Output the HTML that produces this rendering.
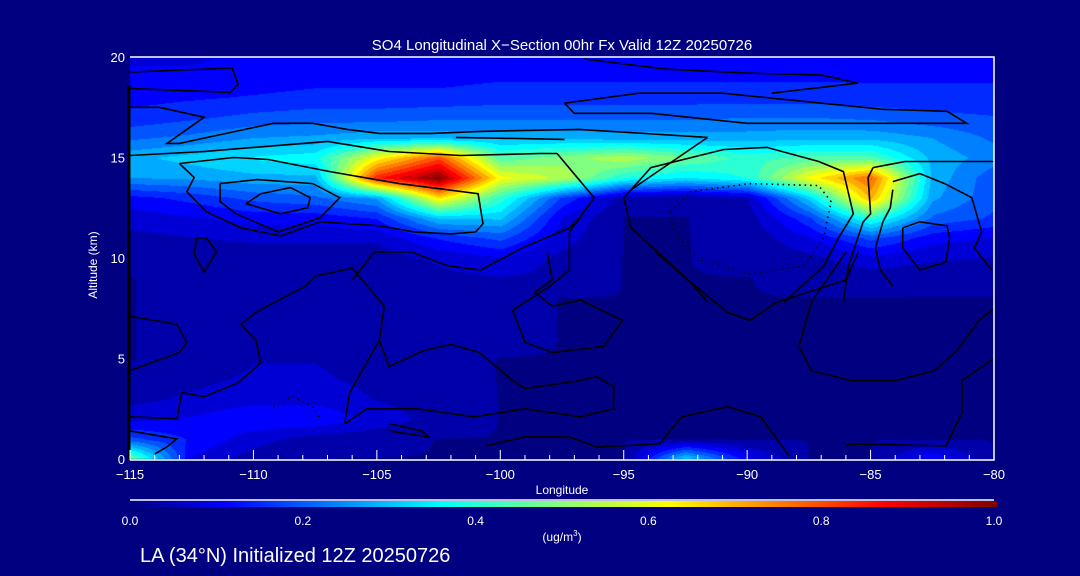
<!DOCTYPE html>
<html><head><meta charset="utf-8">
<style>
html,body{margin:0;padding:0;background:#000080;}
#wrap{position:relative;width:1080px;height:576px;overflow:hidden;background:#000080;font-family:"Liberation Sans",sans-serif;color:#fff;}
canvas{position:absolute;left:0;top:0;}
svg{position:absolute;left:0;top:0;}
</style></head><body>
<div id="wrap">
<canvas id="heat" width="1080" height="576"></canvas>
<svg id="svg" width="1080" height="576">
<defs><linearGradient id="jet" x1="0" x2="1" y1="0" y2="0">
<stop offset="0" stop-color="#000080"/><stop offset="0.11" stop-color="#0000ff"/><stop offset="0.36" stop-color="#00ffff"/><stop offset="0.62" stop-color="#ffff00"/><stop offset="0.87" stop-color="#ff0000"/><stop offset="1" stop-color="#800000"/></linearGradient></defs>
<text x="562" y="50" text-anchor="middle" font-size="15" fill="#fff">SO4 Longitudinal X−Section 00hr  Fx Valid 12Z 20250726</text>
<text transform="translate(97,265) rotate(-90)" text-anchor="middle" font-size="12" fill="#fff">Altitude (km)</text>
<text x="562" y="494" text-anchor="middle" font-size="12" fill="#fff">Longitude</text>
<line x1="130" y1="500" x2="994" y2="500" stroke="#fff" stroke-width="1.5"/>
<rect x="130" y="501" width="867" height="6" fill="url(#jet)"/>
<text x="562" y="541" text-anchor="middle" font-size="12" fill="#fff">(ug/m<tspan dy="-5" font-size="8">3</tspan><tspan dy="5">)</tspan></text>
<text x="140" y="562" font-size="20" fill="#fff">LA (34°N) Initialized 12Z 20250726</text>
<g id="contours"></g>
<g id="axes"></g>
</svg>
</div>
<script>
const lonNodes=[-115,-112.5,-110,-107.5,-105,-102.5,-100,-97.5,-95,-92.5,-90,-87.5,-85,-82.5,-80];
const altNodes=[20,19,18,17,16,15,14,13,12,11,10,9,8,7,6,5,4,3,2,1,0];
const so4=[
[.10,.10,.11,.12,.12,.12,.13,.13,.13,.13,.13,.13,.13,.13,.13],
[.11,.11,.12,.13,.13,.13,.14,.14,.14,.14,.14,.14,.14,.14,.14],
[.13,.14,.15,.16,.16,.16,.17,.17,.17,.17,.17,.17,.16,.16,.16],
[.16,.18,.20,.21,.21,.22,.22,.22,.22,.22,.23,.23,.22,.20,.19],
[.22,.24,.27,.28,.30,.30,.30,.30,.29,.29,.29,.30,.30,.27,.22],
[.30,.33,.36,.38,.62,.80,.45,.50,.55,.48,.42,.45,.45,.30,.25],
[.27,.28,.30,.30,.85,1.0,.62,.55,.40,.35,.40,.62,.78,.30,.20],
[.13,.16,.20,.22,.28,.65,.42,.18,.04,.03,.06,.33,.70,.28,.20],
[.08,.10,.12,.12,.15,.32,.32,.10,.02,.02,.04,.18,.42,.22,.18],
[.05,.06,.07,.07,.07,.15,.20,.08,.02,.02,.03,.10,.20,.12,.10],
[.03,.04,.04,.04,.04,.07,.10,.05,.02,.02,.03,.05,.09,.07,.06],
[.02,.03,.03,.04,.03,.05,.06,.05,.02,.02,.02,.03,.04,.03,.03],
[.02,.03,.04,.05,.03,.03,.03,.02,.02,.02,.02,.02,.02,.02,.02],
[.02,.03,.05,.05,.03,.03,.03,.02,.02,.02,.02,.02,.02,.02,.02],
[.02,.03,.05,.05,.04,.03,.03,.02,.02,.02,.02,.02,.02,.02,.02],
[.02,.03,.06,.06,.04,.03,.02,.02,.02,.02,.02,.02,.02,.02,.02],
[.03,.05,.07,.07,.05,.03,.02,.02,.02,.02,.02,.02,.02,.02,.02],
[.05,.07,.09,.09,.06,.04,.02,.02,.02,.02,.02,.02,.02,.02,.02],
[.09,.11,.14,.14,.09,.04,.02,.02,.02,.02,.02,.02,.02,.02,.02],
[.20,.14,.08,.04,.03,.02,.02,.02,.02,.02,.02,.02,.02,.02,.02],
[.50,.10,.04,.02,.02,.02,.02,.02,.02,.35,.12,.02,.02,.15,.02]];
const xTicks=[-115,-110,-105,-100,-95,-90,-85,-80];
const yTicks=[0,5,10,15,20];
const cbTicks=["0.0","0.2","0.4","0.6","0.8","1.0"];
const contours=[
{d:false,p:[[-115,19.25],[-110.86,19.45],[-110.62,18.64],[-110.94,18.24],[-115,18.44]]},
{d:false,p:[[-115,17.5],[-113.8,17.5],[-112,17.0],[-113.5,15.7],[-113,15.7],[-111.1,16.2],[-109.2,16.7],[-107.6,16.7],[-106.2,16.4],[-104.9,16.2],[-102.8,16.2],[-100.8,16.3],[-96.8,16.4],[-91.6,16.0]]},
{d:false,p:[[-97.4,17.7],[-97,17.2],[-93.9,17.2],[-90,16.7],[-81.1,16.7],[-81.9,17.3],[-84.5,17.4],[-91,18.2],[-94.4,18.2],[-97.4,17.7]]},
{d:false,p:[[-96.6,19.9],[-93.3,19.4],[-90,19.2],[-87,19.1],[-85.5,18.7],[-89,18.2]]},
{d:false,p:[[-115,15.1],[-112,15.3],[-107,15.8],[-104.5,15.3],[-101.6,15.1],[-98.4,15.2],[-97.7,15.2]]},
{d:false,p:[[-113,14.7],[-110.8,15],[-109.4,14.9],[-106.9,14.3],[-104.1,13.7],[-100.9,13.2],[-100.7,11.7],[-101,11.3],[-102,11.2],[-103.5,11.3],[-104.9,11.6],[-107.3,11.8],[-108.9,11.1],[-110.5,11.5],[-111.9,12.3],[-112.7,13.3],[-112.4,14],[-113,14.7]]},
{d:false,p:[[-111.35,13.7],[-109.85,13.9],[-107.6,13.7],[-106.5,13],[-107.3,12],[-109,11.3],[-110.7,12.2],[-111.35,12.8],[-111.35,13.7]]},
{d:false,p:[[-110.3,12.7],[-109.7,13.2],[-108.5,13.5],[-107.7,13],[-107.8,12.5],[-108.9,12.2],[-110.3,12.7]]},
{d:false,p:[[-112.3,11],[-111.9,11],[-111.5,10.3],[-112,9.3],[-112.4,10.2],[-112.3,11]]},
{d:false,p:[[-106,8.9],[-105.1,10.3],[-103.6,10.3],[-102.1,9.6],[-100.8,9.4],[-99.1,10.5],[-97.2,11.5],[-96.75,12]]},
{d:false,p:[[-97.7,15.2],[-96.2,13],[-97.2,11.3],[-97.2,9.4],[-98,8.6],[-99.5,7.4],[-99,5.8],[-97.9,5.3],[-95.8,5.6],[-95.05,6.9],[-96.75,7.9],[-97.9,7.6],[-98.6,8.3],[-97.9,8.9],[-98.1,10.3]]},
{d:false,p:[[-91.6,16],[-94.7,13.4],[-95,13],[-94.7,11.5],[-92.3,8.8],[-91.6,7.8]]},
{d:false,p:[[-94.7,13.4],[-93.9,14.5],[-90.95,15.4],[-89.2,15.5],[-87.1,14.8],[-86.1,14.3],[-85.7,12.2],[-86.3,11],[-86.9,9.6],[-88.5,7.8]]},
{d:false,p:[[-93.7,10.3],[-92.4,8.9],[-90.8,7.3],[-89.9,6.9],[-88.8,7.8],[-86,8.9],[-85.5,10.3]]},
{d:false,p:[[-86,10.3],[-87.4,7.8],[-87.9,5.6],[-87.4,4.4],[-85.8,3.9],[-84,3.9],[-82.4,4.4],[-81.5,5.4],[-80.6,6.9],[-80,7.5]]},
{d:false,p:[[-83.7,11.5],[-83,11.8],[-81.9,11.6],[-81.8,11],[-81.95,9.8],[-83,9.4],[-83.7,10.5],[-83.7,11.5]]},
{d:false,p:[[-84.1,13.8],[-83,14.2],[-82,13.7],[-80.9,13],[-80.5,11.3],[-80.8,10.5],[-80.1,9.4]]},
{d:false,p:[[-84.9,14.5],[-85.1,14],[-85,12.2],[-85.3,11.8],[-85.9,9.6],[-86.1,7.8]]},
{d:false,p:[[-84.1,13.4],[-84.2,12.5],[-84.5,11.8],[-84.8,10.5],[-84.6,9.4],[-84.1,8.6]]},
{d:false,p:[[-84.9,14.5],[-83.6,14.8],[-80,14.8]]},
{d:false,p:[[-115,7.1],[-113.1,6.7],[-112.7,5.8],[-113,5.3],[-115,4.4]]},
{d:false,p:[[-115,2.1],[-113.1,2],[-112.9,3.3],[-112,3.1],[-110.6,3.8],[-109.7,4.8],[-109.9,5.9],[-110.5,6.7],[-109.9,7.3],[-107.9,8.6],[-107.5,9.1],[-106,9.5],[-104.7,7.6],[-104.9,5.9],[-106.1,3.3],[-106.3,1.8]]},
{d:false,p:[[-106.3,1.76],[-105.4,2.5],[-103.4,2.5],[-101.05,2.1],[-99,2.5],[-96.75,2.1],[-95.4,2.5],[-95.4,3.6],[-96.1,4.1],[-96.75,3.9],[-99,3.5],[-99.5,3.9],[-100.85,5.3],[-102,5.7],[-103.1,5.4],[-104.5,4.6],[-104.9,5.9]]},
{d:false,p:[[-100.6,0.65],[-99,1.1],[-97.2,1.1],[-96.1,0.6],[-93.55,0.75],[-92.65,2.1],[-90.8,2.6],[-89.45,2.1],[-88.3,0.15]]},
{d:false,p:[[-86,0.65],[-85.8,0.75],[-81.95,0.65],[-81.3,2.3],[-81.3,3.9],[-80,5]]},
{d:false,p:[[-115,1.4],[-113.1,1],[-113.5,0.6],[-114,0.25]]},
{d:false,p:[[-104.5,1.76],[-103.2,1.4],[-102.9,1.1],[-104.5,1.4]]},
{d:false,p:[[-101.8,16.0],[-97.4,15.9]]},
{d:true,p:[[-93.1,12.3],[-92.3,13.3],[-89.9,13.7],[-87.1,13.6],[-86.6,12.8],[-86.9,11],[-87.7,9.6],[-89.9,9.2],[-91.9,9.9],[-93,11.3],[-93.1,12.3]]},
{d:true,p:[[-109.2,2.6],[-108.4,3.1],[-107.6,2.6],[-107.3,2.0]]}
];
const X0=130,X1=994,Y0=459,Y1=57;
const xs=l=>X0+(l+115)/35*(X1-X0);
const ys=a=>Y0-a/20*(Y0-Y1);
function jet(v){v=Math.max(0,Math.min(1,v));
 let r=Math.min(4*v-1.5,-4*v+4.5),g=Math.min(4*v-0.5,-4*v+3.5),b=Math.min(4*v+0.5,-4*v+2.5);
 return [r,g,b].map(c=>Math.round(255*Math.max(0,Math.min(1,c))));}
function val(lon,alt){
 let fi=(lon+115)/2.5, fj=(20-alt);
 fi=Math.max(0,Math.min(lonNodes.length-1.0001,fi)); fj=Math.max(0,Math.min(altNodes.length-1.0001,fj));
 const i=Math.floor(fi),j=Math.floor(fj),u=fi-i,w=fj-j;
 return so4[j][i]*(1-u)*(1-w)+so4[j][i+1]*u*(1-w)+so4[j+1][i]*(1-u)*w+so4[j+1][i+1]*u*w;}
const ctx=document.getElementById('heat').getContext('2d');
const W=X1-X0,H=Y0-Y1;
const img=ctx.createImageData(W,H);
for(let py=0;py<H;py++){for(let px=0;px<W;px++){
 const lon=-115+px/W*35, alt=20-py/H*20;
 let v=val(lon,alt); v=Math.round(v*24)/24;
 const c=jet(v),k=(py*W+px)*4;
 img.data[k]=c[0];img.data[k+1]=c[1];img.data[k+2]=c[2];img.data[k+3]=255;}}
ctx.putImageData(img,X0,Y1);
const NS='http://www.w3.org/2000/svg';
const cg=document.getElementById('contours');
contours.forEach((c,i)=>{
 const pl=document.createElementNS(NS,'polyline');
 pl.setAttribute('points',c.p.map(q=>xs(q[0]).toFixed(1)+','+ys(q[1]).toFixed(1)).join(' '));
 pl.setAttribute('fill','none');pl.setAttribute('stroke','#000');pl.setAttribute('stroke-width','1.6');
 if(c.d)pl.setAttribute('stroke-dasharray','1.5 4');
 
 
 cg.appendChild(pl);});
const ag=document.getElementById('axes');
function el(t,a){const e=document.createElementNS(NS,t);for(const k in a)e.setAttribute(k,a[k]);ag.appendChild(e);return e;}
let e;
e=el('line',{x1:X0-1,y1:85,x2:X0-1,y2:Y0,stroke:'#000','stroke-width':3});


e=el('polyline',{points:`${X0},${Y1} ${X1},${Y1} ${X1},${Y0+1} ${X0},${Y0+1}`,fill:'none',stroke:'#fff','stroke-width':1.5});


for(let l=-115;l<=-80;l++){
 const major=l%5===0;
 e=el('line',{x1:xs(l),x2:xs(l),y1:Y0+1,y2:Y0+1-(major?10:5),stroke:'#fff','stroke-width':1});
 
 }
xTicks.forEach(l=>{
 e=el('text',{x:xs(l),y:479,'text-anchor':'middle','font-size':13,fill:'#fff'});
 e.textContent=(l<0?'−':'')+Math.abs(l);
 
 });
yTicks.forEach(a=>{
 e=el('text',{x:125,y:ys(a)+5,'text-anchor':'end','font-size':13,fill:'#fff'});
 e.textContent=a;
 
 });
cbTicks.forEach((t,i)=>{
 e=el('text',{x:X0+i*(X1-X0)/5,y:525,'text-anchor':'middle','font-size':12,fill:'#fff'});
 e.textContent=t;
 
 });
</script>
</body></html>
